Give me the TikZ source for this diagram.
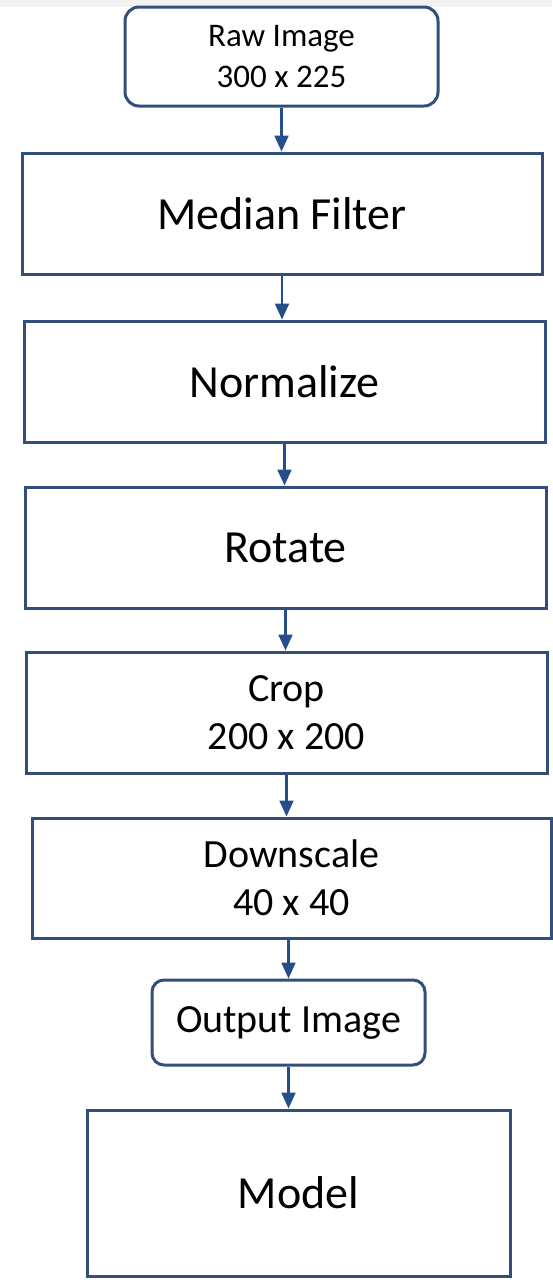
\documentclass[tikz,border=0pt]{standalone}
\usepackage{fontspec}
\setmainfont{Carlito}
\usetikzlibrary{arrows.meta}
\definecolor{boxblue}{RGB}{50,78,122}
\definecolor{arrowblue}{RGB}{38,78,138}
\newcommand{\stagebig}{\fontsize{46}{55}\selectfont}
\newcommand{\stagemid}{\fontsize{40}{48}\selectfont}
\newcommand{\stagesmall}{\fontsize{33}{41}\selectfont}
\tikzset{
  stage/.style={draw=boxblue, line width=3pt, fill=white, align=center, inner sep=0pt},
  flow/.style={draw=arrowblue, line width=2.2pt, -{Triangle[width=14pt,length=16pt]}}
}
\begin{document}
\begin{tikzpicture}[x=1pt, y=-1pt]
    \useasboundingbox (0,0) rectangle (552,1282);
    \fill[gray!10] (0,0) rectangle (552,7);
    % pipeline stages
    \node[stage, rounded corners=14pt, minimum width=313pt, minimum height=99pt, font=\stagesmall]
        (raw) at (281.5,56.5) {Raw Image\\300 x 225};
    \node[stage, minimum width=520pt, minimum height=121pt, font=\stagebig]
        (median) at (282,213.5) {Median Filter};
    \node[stage, minimum width=521pt, minimum height=121pt, font=\stagebig]
        (normalize) at (284.5,381.5) {Normalize};
    \node[stage, minimum width=521pt, minimum height=121pt, font=\stagebig]
        (rotate) at (285.5,547.5) {Rotate};
    \node[stage, minimum width=521pt, minimum height=121pt, font=\stagemid]
        (crop) at (286.5,712.5) {Crop\\200 x 200};
    \node[stage, minimum width=519pt, minimum height=120pt, font=\stagemid]
        (downscale) at (291.5,878) {Downscale\\40 x 40};
    \node[stage, rounded corners=12pt, minimum width=273pt, minimum height=85pt, font=\stagemid]
        (output) at (288.5,1022.5) {Output Image};
    \node[stage, minimum width=423pt, minimum height=166pt, font=\stagebig]
        (model) at (298.5,1193) {Model};
    % arrows, straight down from each stage
    \draw[flow] (raw) -- (raw |- median.north);
    \draw[flow] (median) -- (median |- normalize.north);
    \draw[flow] (normalize) -- (normalize |- rotate.north);
    \draw[flow] (rotate) -- (rotate |- crop.north);
    \draw[flow] (crop) -- (crop |- downscale.north);
    \draw[flow] (output |- downscale.south) -- (output);
    \draw[flow] (output) -- (output |- model.north);
\end{tikzpicture}
\end{document}
